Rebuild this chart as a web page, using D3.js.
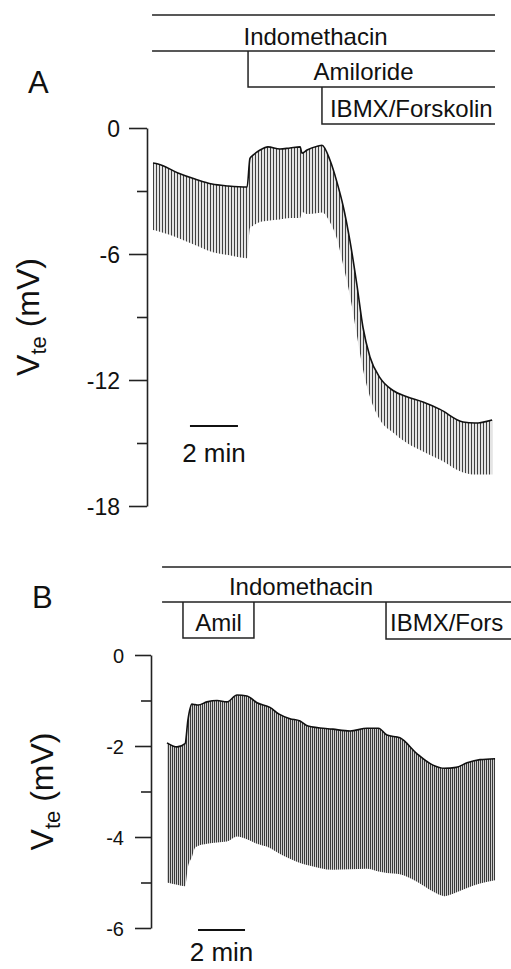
<!DOCTYPE html>
<meta charset="utf-8">
<style>
body { margin: 0; background: #fff; }
text { font-family: "Liberation Sans", Arial, sans-serif; fill: #111; }
.axis path, .axis line { stroke: #222; stroke-width: 1.6px; }
.trace { fill: none; stroke: #111; stroke-width: 1.6px; }
.drug { fill: none; stroke: #222; stroke-width: 1.5px; }
.bar { stroke: #111; stroke-width: 2.2px; }
</style>
<svg width="511" height="969"></svg>
<script src="https://d3js.org/d3.v7.min.js"></script>
<script>

// panel A: time (min), upper / lower envelope of the V_te pulses (mV)
var timeA = [0, 0.21, 1.04, 1.75, 2.46, 3.13, 3.92, 4.04, 4.17, 4.46, 4.79, 5.29, 5.71, 6.13, 6.21, 6.42,
             6.88, 7.04, 7.38, 7.67, 7.92, 8.21, 8.50, 8.75, 9.04, 9.46, 10.00, 10.58, 11.25, 11.96, 12.92, 13.42, 14.13];
var topA = [-1.67, -1.71, -2.14, -2.43, -2.67, -2.76, -2.81, -1.45, -1.29, -1.05, -0.90, -1.00, -0.95, -0.90, -1.20, -1.05,
            -0.86, -0.82, -1.55, -2.6, -3.7, -5.4, -7.5, -9.5, -10.9, -11.9, -12.5, -12.8, -13.05, -13.4, -14.0, -14.05, -13.9];
var botA = [-4.86, -4.92, -5.24, -5.57, -5.90, -6.05, -6.20, -4.76, -4.65, -4.48, -4.42, -4.36, -4.29, -4.29, -4.0, -4.1,
            -4.05, -4.02, -4.5, -5.3, -6.5, -8.0, -9.9, -11.5, -12.8, -13.9, -14.5, -15.0, -15.4, -15.8, -16.4, -16.5, -16.5];

// panel B
var timeB = [0, 0.43, 0.77, 0.89, 1.06, 1.19, 1.32, 1.70, 2.13, 2.55, 2.98, 3.40, 3.83, 4.38, 4.77, 5.23,
             5.66, 6.00, 7.06, 7.79, 8.51, 9.00, 9.36, 9.91, 10.62, 11.32, 11.80, 12.30, 12.77, 13.32, 13.96];
var topB = [-1.93, -2.02, -1.95, -1.43, -1.08, -1.09, -1.10, -1.03, -1.00, -1.03, -0.88, -0.90, -1.05, -1.15, -1.30, -1.40,
            -1.45, -1.56, -1.63, -1.67, -1.61, -1.61, -1.76, -1.82, -2.16, -2.42, -2.49, -2.47, -2.37, -2.30, -2.28];
var botB = [-5.00, -5.05, -5.08, -4.66, -4.44, -4.24, -4.20, -4.15, -4.12, -4.10, -3.99, -4.05, -4.15, -4.24, -4.36, -4.48,
            -4.57, -4.62, -4.72, -4.71, -4.70, -4.76, -4.79, -4.82, -4.98, -5.20, -5.30, -5.22, -5.12, -5.02, -4.95];

// drug application periods (min)
var drugsA = [["Indomethacin", -0.04, 14.25], ["Amiloride", 3.96, 14.25], ["IBMX/Forskolin", 7.04, 14.25]];
var drugsB = [["Indomethacin", -0.21, 14.7], ["Amil", 0.68, 3.70], ["IBMX/Fors", 9.32, 14.7]];

var ticksA = [0, -6, -12, -18], minorA = [-3, -9, -15];
var ticksB = [0, -2, -4, -6], minorB = [-1, -3, -5];

var svg = d3.select("svg");

var defs = svg.append("defs");
function hatch(id, w, bg, color) {
  var p = defs.append("pattern").attr("id", id)
      .attr("patternUnits", "userSpaceOnUse")
      .attr("width", w).attr("height", 10);
  p.append("rect").attr("width", w).attr("height", 10).attr("fill", bg);
  p.append("rect").attr("width", 1).attr("height", 10).attr("fill", color);
}
hatch("hA", 3, "#e4e4e4", "#404040");
hatch("hB", 2, "#d0d0d0", "#3a3a3a");

function panel(o) {
  var g = svg.append("g");
  var x = d3.scaleLinear().domain([0, 14]).range(o.xr),
      y = d3.scaleLinear().domain(o.yd).range(o.yr);

  var pts = o.time.map(function(t, i) { return {t: t, top: o.top[i], bot: o.bot[i]}; });

  g.append("path")
      .datum(pts)
      .attr("fill", "url(#" + o.pat + ")")
      .attr("d", d3.area().curve(d3.curveMonotoneX)
        .x(function(d) { return x(d.t); })
        .y0(function(d) { return y(d.bot); })
        .y1(function(d) { return y(d.top); }));

  g.append("path")
      .datum(pts)
      .attr("class", "trace")
      .attr("d", d3.line().curve(d3.curveMonotoneX)
        .x(function(d) { return x(d.t); })
        .y(function(d) { return y(d.top); }));

  var ax = g.append("g").attr("class", "axis")
      .attr("transform", "translate(" + o.ax + ",0)")
      .call(d3.axisLeft(y).tickValues(o.ticks).tickSize(o.tick).tickSizeOuter(0).tickPadding(o.pad)
        .tickFormat(function(d) { return String(d); }));
  ax.selectAll("text").style("font-size", o.fs + "px").style("fill", "#111")
      .style("font-family", '"Liberation Sans", Arial, sans-serif').attr("dy", "0.36em");
  g.append("g").attr("class", "axis")
      .attr("transform", "translate(" + o.ax + ",0)")
      .call(d3.axisLeft(y).tickValues(o.minor).tickSize(10).tickSizeOuter(0).tickFormat(""))
      .select(".domain").remove();

  // 2 min scale bar
  g.append("line").attr("class", "bar")
      .attr("x1", x(o.bar)).attr("x2", x(o.bar + 2))
      .attr("y1", o.barY).attr("y2", o.barY);
  g.append("text")
      .attr("x", x(o.bar + 1)).attr("y", o.barY + o.barT)
      .attr("text-anchor", "middle").style("font-size", "26px")
      .text("2 min");

  // y label
  var lab = g.append("text")
      .attr("transform", "translate(" + o.labX + "," + (y(o.yd[0]) + y(o.yd[1])) / 2 + ") rotate(-90)")
      .attr("text-anchor", "middle").style("font-size", "32px");
  lab.append("tspan").text("V");
  lab.append("tspan").attr("dy", 7).style("font-size", "22px").text("te");
  lab.append("tspan").attr("dy", -7).text(" (mV)");

  g.append("text").attr("x", o.letter[0]).attr("y", o.letter[1])
      .style("font-size", "31px").text(o.name);

  return x;
}

var xA = panel({name: "A", letter: [28, 93], time: timeA, top: topA, bot: botA, pat: "hA",
  xr: [153, 489], yd: [0, -18], yr: [128, 506], ticks: ticksA, minor: minorA,
  ax: 147, tick: 18, pad: 9, fs: 23, bar: 1.54, barY: 426, barT: 36, labX: 39});

var xB = panel({name: "B", letter: [32, 608], time: timeB, top: topB, bot: botB, pat: "hB",
  xr: [167, 496], yd: [0, -6], yr: [655, 928], ticks: ticksB, minor: minorB,
  ax: 151, tick: 16, pad: 11, fs: 20, bar: 1.32, barY: 930, barT: 31, labX: 53});

// drug bars, panel A (stairs)
var dA = svg.append("g");
dA.append("path").attr("class", "drug")
    .attr("d", "M" + xA(drugsA[0][1]) + ",15H" + xA(drugsA[0][2]) +
               "M" + xA(drugsA[0][1]) + ",51H" + xA(drugsA[0][2]));
dA.append("path").attr("class", "drug")
    .attr("d", "M" + xA(drugsA[1][1]) + ",51V87H" + xA(drugsA[1][2]));
dA.append("path").attr("class", "drug")
    .attr("d", "M" + xA(drugsA[2][1]) + ",87V124H" + xA(drugsA[2][2]));
dA.append("text").attr("x", (xA(drugsA[0][1]) + xA(drugsA[0][2])) / 2 - 8).attr("y", 45)
    .attr("text-anchor", "middle").style("font-size", "24px").text(drugsA[0][0]);
dA.append("text").attr("x", (xA(drugsA[1][1]) + xA(drugsA[1][2])) / 2 - 8).attr("y", 80)
    .attr("text-anchor", "middle").style("font-size", "24px").text(drugsA[1][0]);
dA.append("text").attr("x", xA(drugsA[2][1]) + 8).attr("y", 117)
    .style("font-size", "24px").text(drugsA[2][0]);

// drug bars, panel B (boxes)
var dB = svg.append("g");
dB.append("path").attr("class", "drug")
    .attr("d", "M" + xB(drugsB[0][1]) + ",567H" + xB(drugsB[0][2]) +
               "M" + xB(drugsB[0][1]) + ",602H" + xB(drugsB[0][2]));
dB.append("path").attr("class", "drug")
    .attr("d", "M" + xB(drugsB[1][1]) + ",602V638H" + xB(drugsB[1][2]) + "V602");
dB.append("path").attr("class", "drug")
    .attr("d", "M" + xB(drugsB[2][1]) + ",602V639H" + xB(drugsB[2][2]));
dB.append("text").attr("x", 301).attr("y", 595)
    .attr("text-anchor", "middle").style("font-size", "24px").text(drugsB[0][0]);
dB.append("text").attr("x", (xB(drugsB[1][1]) + xB(drugsB[1][2])) / 2).attr("y", 631)
    .attr("text-anchor", "middle").style("font-size", "24px").text(drugsB[1][0]);
dB.append("text").attr("x", xB(drugsB[2][1]) + 4).attr("y", 631)
    .style("font-size", "24px").text(drugsB[2][0]);

</script>
